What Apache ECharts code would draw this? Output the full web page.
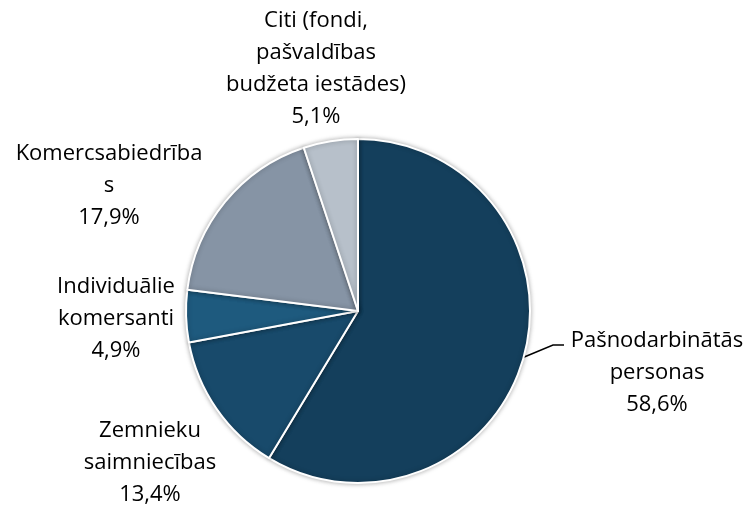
<!DOCTYPE html>
<html>
<head>
<meta charset="utf-8">
<script src="https://cdn.jsdelivr.net/npm/echarts@6/dist/echarts.min.js"></script>
<style>html,body{margin:0;padding:0;background:#fff;}#c{width:749px;height:507px;}</style>
</head>
<body>
<div id="c"></div>
<script>
var categories = ['Pašnodarbinātās\npersonas', 'Zemnieku\nsaimniecības', 'Individuālie\nkomersanti', 'Komercsabiedrība\ns', 'Citi (fondi,\npašvaldības\nbudžeta iestādes)'];
var values = [58.6, 13.4, 4.9, 17.9, 5.1];
var colors = ['#143f5c', '#184a6b', '#1e5a7e', '#8694a5', '#b7c0ca'];
var labelPos = [[657, 373], [150, 463], [116, 319], [109, 186], [316, 69]];

var chart = echarts.init(document.getElementById('c'));
chart.setOption({
  animation: false,
  series: [{
    type: 'pie',
    center: [358, 311],
    radius: 172,
    startAngle: 90,
    clockwise: true,
    data: categories.map(function (c, i) {
      return {
        name: c, value: values[i],
        itemStyle: { color: colors[i] },
        labelLine: { show: i === 0 }
      };
    }),
    itemStyle: { borderColor: '#fff', borderWidth: 2, shadowBlur: 5, shadowColor: 'rgba(0,0,0,0.3)' },
    label: {
      show: true,
      position: 'outside',
      overflow: 'none',
      formatter: function (p) { return p.name + '\n' + p.value.toFixed(1).replace('.', ',') + '%'; },
      fontFamily: 'Open Sans',
      fontSize: 22,
      lineHeight: 32,
      color: '#000',
      align: 'center'
    },
    labelLine: { lineStyle: { color: '#000', width: 1.5 }, length: 10, length2: 10 },
    labelLayout: function (p) {
      var pos = labelPos[p.dataIndex];
      var res = { x: pos[0], y: pos[1], align: 'center', verticalAlign: 'middle' };
      if (p.dataIndex === 0 && p.labelLinePoints) {
        var a = p.labelLinePoints[0];
        res.labelLinePoints = [[a[0], a[1]], [553, 345], [564, 345]];
      }
      return res;
    }
  }]
});
</script>
</body>
</html>
